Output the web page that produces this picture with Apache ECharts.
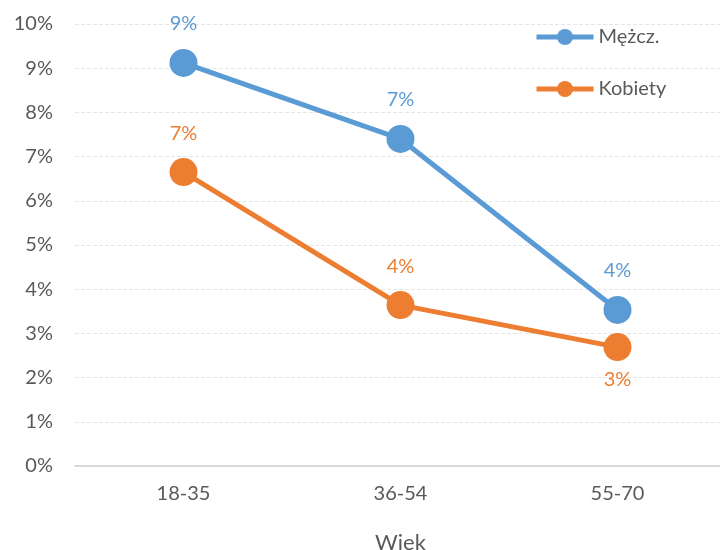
<!DOCTYPE html>
<html>
<head>
<meta charset="utf-8">
<script src="https://cdn.jsdelivr.net/npm/echarts@6/dist/echarts.min.js"></script>
<style>
  html, body { margin: 0; padding: 0; background: #fff; overflow: hidden; }
  #chart { width: 720px; height: 550px; }
</style>
</head>
<body>
<div id="chart"></div>
<script>
// Age groups and share of each group (as fractions)
var categories = ['18-35', '36-54', '55-70'];
var men = [0.0912, 0.0740, 0.0353];
var women = [0.0665, 0.0364, 0.0269];
var seriesNames = ['Mężcz.', 'Kobiety'];
var axisTitle = 'Wiek';

var FONT = 'Lato, "Noto Sans", sans-serif';
var BLUE = '#5B9BD5';
var ORANGE = '#ED7D31';
var TEXT = '#595959';

function pct(v) { return Math.round(v * 100) + '%'; }

var chart = echarts.init(document.getElementById('chart'), null, { renderer: 'canvas' });

chart.setOption({
  animation: false,
  textStyle: { fontFamily: FONT },
  grid: { left: 75, top: 24, width: 651, bottom: 84, containLabel: false, outerBoundsMode: 'none' },
  legend: {
    orient: 'vertical',
    left: 529,
    top: 22,
    itemWidth: 57,
    itemHeight: 20,
    itemGap: 32,
    lineStyle: { width: 5 },
    textStyle: { fontFamily: FONT, fontSize: 20, color: TEXT },
    data: seriesNames
  },
  xAxis: {
    type: 'category',
    data: categories,
    boundaryGap: true,
    axisLine: { lineStyle: { color: '#D9D9D9', width: 2 } },
    axisTick: { show: false },
    axisLabel: { color: TEXT, fontSize: 20, fontFamily: FONT, margin: 18 },
    name: axisTitle,
    nameLocation: 'middle',
    nameGap: 66,
    nameTextStyle: { color: TEXT, fontSize: 22, fontFamily: FONT }
  },
  yAxis: {
    type: 'value',
    min: 0,
    max: 0.1,
    interval: 0.01,
    axisLine: { show: false },
    axisTick: { show: false },
    splitLine: { lineStyle: { color: '#E6E6E6', width: 1, type: 'dashed' } },
    axisLabel: { color: TEXT, fontSize: 20, fontFamily: FONT, margin: 22, formatter: pct }
  },
  series: [
    {
      name: seriesNames[0],
      type: 'line',
      data: men,
      color: BLUE,
      symbol: 'circle',
      symbolSize: 28,
      lineStyle: { width: 5, color: BLUE },
      itemStyle: { color: BLUE },
      label: {
        show: true, position: 'top', distance: 15,
        color: BLUE, fontSize: 20, fontFamily: FONT,
        formatter: function (p) { return pct(p.value); }
      }
    },
    {
      name: seriesNames[1],
      type: 'line',
      data: women.map(function (v, i) {
        return i === 2 ? { value: v, label: { position: 'bottom', distance: 8 } } : v;
      }),
      color: ORANGE,
      symbol: 'circle',
      symbolSize: 28,
      lineStyle: { width: 5, color: ORANGE },
      itemStyle: { color: ORANGE },
      label: {
        show: true, position: 'top', distance: 15,
        color: ORANGE, fontSize: 20, fontFamily: FONT,
        formatter: function (p) { return pct(p.value); }
      }
    }
  ]
});
</script>
</body>
</html>
